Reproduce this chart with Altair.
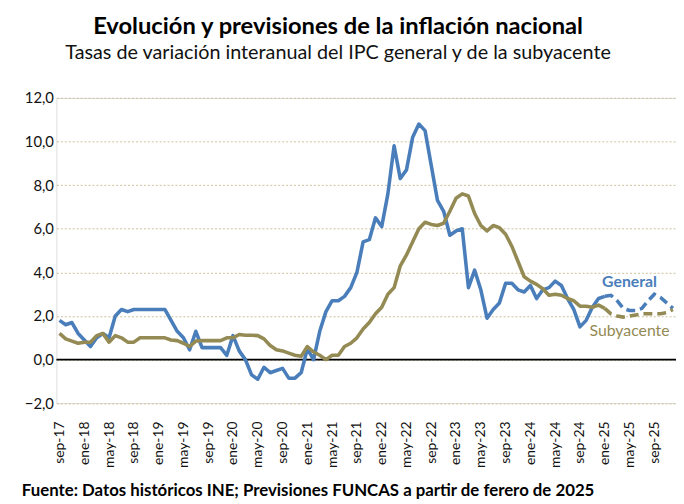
import altair as alt
import pandas as pd

meses_abrev = ["ene", "feb", "mar", "abr", "may", "jun", "jul", "ago", "sep", "oct", "nov", "dic"]
# sep-17 ... dic-25
meses = []
for anio in range(17, 26):
    for m, ab in enumerate(meses_abrev):
        if anio == 17 and m < 8:
            continue
        meses.append(f"{ab}-{anio}")

general = [
    1.8, 1.6, 1.7, 1.2, 0.9, 0.6, 1.0, 1.2, 1.0, 2.0, 2.3, 2.2,
    2.3, 2.3, 2.3, 2.3, 2.3, 2.3, 1.8, 1.3, 1.0, 0.45, 1.3, 0.55,
    0.55, 0.55, 0.55, 0.2, 1.1, 0.4, 0.0, -0.7, -0.9, -0.35, -0.6, -0.5,
    -0.4, -0.85, -0.85, -0.6, 0.5, 0.0, 1.3, 2.2, 2.7, 2.7, 2.9, 3.3,
    4.0, 5.4, 5.5, 6.5, 6.1, 7.6, 9.8, 8.3, 8.7, 10.2, 10.8, 10.5,
    8.9, 7.3, 6.8, 5.7, 5.9, 6.0, 3.3, 4.1, 3.2, 1.9, 2.3, 2.6,
    3.5, 3.5, 3.2, 3.1, 3.4, 2.8, 3.2, 3.3, 3.6, 3.4, 2.8, 2.3,
    1.5, 1.8, 2.4, 2.8, 2.9,
    2.95, 2.7, 2.35, 2.25, 2.25, 2.35, 2.7, 3.0, 2.85, 2.6, 2.35,
]
subyacente = [
    1.2, 0.95, 0.85, 0.75, 0.8, 0.8, 1.1, 1.2, 0.8, 1.1, 1.0, 0.8,
    0.8, 1.0, 1.0, 1.0, 1.0, 1.0, 0.9, 0.87, 0.75, 0.6, 0.85, 0.87,
    0.87, 0.87, 0.87, 1.0, 1.0, 1.15, 1.12, 1.12, 1.1, 0.95, 0.65, 0.45,
    0.4, 0.3, 0.2, 0.15, 0.6, 0.35, 0.2, 0.0, 0.2, 0.2, 0.6, 0.75,
    1.0, 1.4, 1.7, 2.1, 2.4, 3.0, 3.3, 4.3, 4.8, 5.4, 6.0, 6.3,
    6.2, 6.15, 6.25, 6.8, 7.4, 7.6, 7.5, 6.7, 6.15, 5.9, 6.15, 6.05,
    5.75, 5.2, 4.5, 3.8, 3.6, 3.45, 3.25, 2.95, 3.0, 2.95, 2.8, 2.7,
    2.45, 2.45, 2.4, 2.5, 2.35,
    2.1, 2.0, 1.95, 2.0, 2.05, 2.1, 2.1, 2.1, 2.1, 2.15, 2.3,
]
ultimo_historico = "ene-25"
series = ["General", "Subyacente"]
colores = ["#4A7EBB", "#948A54"]

titulo = "Evolución y previsiones de la inflación nacional"
subtitulo = "Tasas de variación interanual del IPC general y de la subyacente"
fuente = "Fuente: Datos históricos INE; Previsiones FUNCAS a partir de ferero de 2025"

FONT = "Lato"
W, H = 627, 309

rows = []
corte = meses.index(ultimo_historico)
for i, mes in enumerate(meses):
    for s, vals in zip(series, [general, subyacente]):
        rows.append({"mes": mes, "i": i, "serie": s, "valor": vals[i],
                     "hist": i <= corte, "prev": i >= corte})
df = pd.DataFrame(rows)

etiquetas_x = meses[::4]

X = alt.X("mes:O", sort=meses, title=None,
          scale=alt.Scale(type="point", padding=0.5),
          axis=alt.Axis(values=etiquetas_x, labelAngle=270, ticks=False, domain=False,
                        grid=False, labelFontSize=14, labelColor="#111111",
                        labelPadding=18, labelFont=FONT))
Y = alt.Y("valor:Q", title=None,
          scale=alt.Scale(domain=[-2, 12], nice=False, zero=False),
          axis=alt.Axis(values=list(range(-2, 13, 2)), domain=False, ticks=False,
                        labelExpr="replace(format(datum.value, '.1f'), '.', ',')",
                        labelFontSize=15, labelColor="#111111", labelPadding=3,
                        labelFont=FONT, grid=True, gridDash=[2, 2],
                        gridColor="#cbbf9a", gridWidth=1))
C = alt.Color("serie:N", scale=alt.Scale(domain=series, range=colores), legend=None)

base = alt.Chart(df)

cero = alt.Chart(pd.DataFrame({"v": [0]})).mark_rule(color="#000000", strokeWidth=1.6).encode(
    y=alt.Y("v:Q", scale=alt.Scale(domain=[-2, 12], nice=False, zero=False)))

hist = base.transform_filter("datum.hist").mark_line(strokeWidth=3.6, strokeJoin="round").encode(
    x=X, y=Y, color=C, detail="serie:N")
prev = base.transform_filter("datum.prev").mark_line(strokeWidth=3.6, strokeDash=[9, 5],
                                                   strokeCap="butt").encode(
    x=X, y=Y, color=C, detail="serie:N")

lab_gen = alt.Chart(pd.DataFrame({"mes": ["may-25"], "valor": [3.55], "t": ["General"]})).mark_text(
    font=FONT, fontSize=16, fontWeight="bold", color=colores[0]).encode(x=X, y=Y, text="t:N")
lab_sub = alt.Chart(pd.DataFrame({"mes": ["may-25"], "valor": [1.3], "t": ["Subyacente"]})).mark_text(
    font=FONT, fontSize=16, color=colores[1]).encode(x=X, y=Y, text="t:N")

t1 = alt.Chart(pd.DataFrame({"t": [titulo]})).mark_text(
    font=FONT, fontSize=24, fontWeight="bold", color="#000000", baseline="middle", align="center"
).encode(text="t:N", x=alt.value(285), y=alt.value(-72))
t2 = alt.Chart(pd.DataFrame({"t": [subtitulo]})).mark_text(
    font=FONT, fontSize=20, color="#111111", baseline="middle", align="center"
).encode(text="t:N", x=alt.value(285), y=alt.value(-45))
t3 = alt.Chart(pd.DataFrame({"t": [fuente]})).mark_text(
    font=FONT, fontSize=17, fontWeight="bold", color="#000000", baseline="middle", align="left"
).encode(text="t:N", x=alt.value(-35), y=alt.value(398))

chart = alt.layer(cero, hist, prev, lab_gen, lab_sub, t1, t2, t3).properties(
    width=W, height=H,
    autosize=alt.AutoSizeParams(type="none"),
    padding={"left": 49, "top": 88, "right": 0, "bottom": 99},
).configure_view(stroke=None).configure(background="white")

chart.save("out.html", embed_options={"renderer": "svg", "actions": False})
